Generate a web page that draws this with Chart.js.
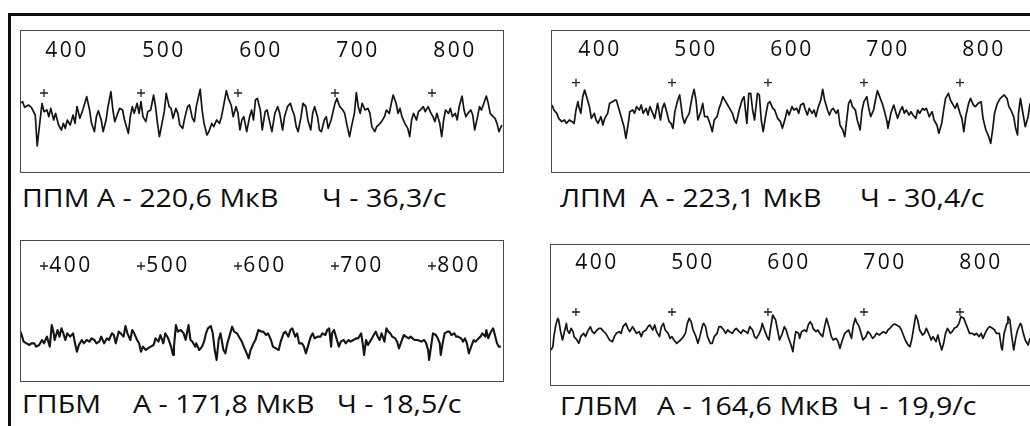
<!DOCTYPE html>
<html lang="ru">
<head>
<meta charset="utf-8">
<title>ЭМГ</title>
<script src="https://cdn.jsdelivr.net/npm/chart.js@4.4.1/dist/chart.umd.min.js"></script>
<style>
  html, body { margin: 0; padding: 0; background: #fff; }
  body { width: 1030px; height: 426px; overflow: hidden; position: relative; font-family: "Open Sans", sans-serif; }
  #frame { position: absolute; left: 8px; top: 13px; width: 1100px; height: 500px;
           border-top: 3px solid #0d0d0d; border-left: 3px solid #0d0d0d; }
  .box { position: absolute; border: 1px solid #4a4a4a; background: #fff; }
  .box canvas { display: block; }
  .cap { position: absolute; font-size: 26px; line-height: 26px; color: #0d0d0d; white-space: pre;
         transform: scaleX(1.1); transform-origin: 0 0; }
</style>
</head>
<body>
<div id="frame"></div>
<div class="box" style="left:20px;top:30px"><canvas id="ppm" width="482" height="141"></canvas></div>
<div class="box" style="left:551px;top:30px"><canvas id="lpm" width="479" height="141"></canvas></div>
<div class="box" style="left:20px;top:240px"><canvas id="gpbm" width="482" height="140"></canvas></div>
<div class="box" style="left:550px;top:244px"><canvas id="glbm" width="480" height="140"></canvas></div>
<div id="captions"></div>
<script>
// time marks, ms
const tickMs = [400, 500, 600, 700, 800];

// captions
const muscles = ['ППМ', 'ЛПМ', 'ГПБМ', 'ГЛБМ'];
const amplitudes = ['220,6', '223,1', '171,8', '164,6'];
const rates = ['36,3', '30,4', '18,5', '19,9'];

// traces: [time ms, amplitude µV]
const ppmTrace = [[375,20],[378,25],[380,8],[384,15],[387,8],[391,-15],[393,-108],[396,-30],[398,20],[400,-5],[403,0],[405,-20],[407,5],[410,-30],[412,-10],[415,-45],[418,-60],[420,-40],[422,-55],[424,-30],[427,-45],[430,-15],[432,-40],[434,10],[437,-25],[440,0],[444,40],[447,0],[449,-40],[452,-65],[454,-20],[456,-2],[459,-30],[461,-65],[464,-30],[466,10],[469,55],[471,0],[473,-35],[476,-10],[478,5],[481,0],[483,-30],[487,-70],[489,-20],[491,10],[493,-10],[496,20],[498,-10],[500,25],[502,-20],[505,-35],[507,-5],[510,0],[513,45],[515,10],[517,-40],[519,-80],[521,-50],[524,-5],[526,50],[529,10],[531,5],[533,-25],[536,5],[538,-10],[540,-45],[543,-55],[545,-25],[548,10],[550,15],[553,-25],[555,-35],[557,10],[561,62],[563,0],[565,-40],[568,-75],[570,-65],[573,-40],[575,-50],[578,-30],[581,-40],[583,-20],[585,10],[588,58],[590,35],[593,15],[595,-20],[598,10],[600,-10],[602,-60],[604,-30],[606,-20],[609,-65],[612,-20],[614,0],[616,-30],
  [618,30],[620,35],[623,0],[625,-60],[628,-5],[630,0],[633,-40],[635,-65],[638,-10],[641,10],[643,-10],[646,-60],[648,-20],[651,10],[654,20],[656,0],[658,-15],[660,-50],[662,-65],[665,-20],[667,20],[670,10],[672,-30],[675,-60],[677,-10],[679,10],[682,-20],[684,-60],[686,-65],[689,-30],[691,-20],[693,-55],[696,-30],[698,-5],[700,20],[702,35],[703,25],[705,10],[708,0],[710,-10],[712,-40],[715,-80],[717,-50],[720,-10],[722,52],[724,10],[726,-10],[728,20],[731,0],[734,5],[736,-10],[738,-50],[741,-65],[743,-50],[745,-45],[748,-35],[751,-20],[753,0],[756,-10],[758,20],[760,45],[763,20],[765,-10],[767,5],[769,-20],[772,-40],[775,-55],[777,-80],[779,-30],[781,-10],[784,-30],[786,-5],[788,0],[791,10],[793,-5],[796,10],[799,-10],[801,-20],[803,-35],[805,-10],[808,-40],[810,-80],[812,-30],[814,0],[817,-10],[819,5],[821,-20],[824,-10],[826,-30],[828,10],[831,42],[833,0],[835,-20],[837,-10],[840,0],[842,-15],[844,-60],[847,-20],[849,10],[851,0],[854,25],[856,42],[858,20],[860,-10],[863,-20],[865,-25],[867,-40],[869,-65],[872,-45]];

const lpmTrace = [[375,9],[377,-6],[380,-16],[382,-31],[385,-41],[388,-36],[390,-46],[393,-36],[396,-41],[398,-46],[400,-6],[402,19],[403,4],[405,-16],[407,34],[409,54],[412,24],[414,4],[416,-31],[419,-16],[421,-36],[423,-46],[426,-26],[428,-51],[430,-31],[433,-16],[435,14],[438,19],[441,24],[442,24],[445,-6],[448,-36],[450,-56],[452,-91],[455,-36],[456,-11],[459,-6],[461,-16],[463,4],[466,-6],[468,9],[470,-16],[473,-1],[475,-21],[477,4],[480,-16],[482,-31],[485,14],[488,-36],[490,-1],[492,14],[494,-6],[497,-41],[499,-46],[501,-61],[503,-11],[506,24],[508,39],[511,-26],[513,-46],[515,-31],[518,-16],[521,34],[523,56],[525,24],[527,-36],[530,-11],[532,14],[534,-26],[537,-26],[540,-51],[542,-71],[544,-36],[547,-26],[549,-1],[551,14],[553,34],[556,19],[558,9],[560,-1],[563,-16],[565,-36],[567,-46],[570,-6],[573,24],[575,34],[578,-46],[580,44],[582,44],[584,-6],[586,-36],[589,44],[591,39],[593,-36],[595,-71],[598,-16],[600,14],[602,19],[605,-1],[607,-6],[610,-31],
  [613,-41],[615,-61],[618,-31],[620,-6],[622,-21],[625,4],[627,-6],[630,-1],[632,-16],[634,9],[637,14],[639,-6],[641,-21],[643,-1],[646,-16],[648,-6],[650,-26],[652,-1],[655,24],[657,56],[659,24],[662,-6],[664,-21],[666,-6],[668,-1],[671,-16],[673,-6],[675,-51],[678,-66],[680,-86],[682,-36],[684,14],[686,24],[688,4],[691,-6],[693,-36],[696,-66],[698,-6],[700,19],[703,34],[705,-1],[707,-26],[710,-6],[712,24],[714,52],[717,29],[719,14],[721,-6],[724,-41],[725,-61],[728,-16],[731,9],[733,-11],[735,-31],[738,-6],[740,4],[742,-16],[744,-6],[747,-21],[749,-11],[751,-21],[754,-31],[756,-6],[758,-16],[761,-1],[763,-6],[765,-1],[768,-26],[771,-11],[773,-36],[776,-51],[778,-76],[781,-46],[783,-6],[785,29],[788,44],[790,24],[792,14],[795,-1],[797,14],[800,-16],[802,-31],[804,-71],[806,-26],[809,14],[811,29],[814,9],[816,4],[819,14],[822,19],[824,-31],[827,-66],[830,-86],[832,-106],[834,-66],[836,-16],[839,14],[842,29],[844,34],[846,39],[849,29],[851,4],[853,-6],[856,-26],[858,-61],[860,-81],[861,-16],[863,29],[865,-6],[868,-56],[871,-26],[873,14]];

const gpbmTrace = [[375,30],[377,15],[379,-5],[382,-10],[385,-15],[387,-10],[390,-10],[392,-20],[395,-15],[398,0],[400,-10],[403,10],[406,-20],[408,45],[410,20],[411,0],[414,30],[416,10],[418,35],[420,20],[422,0],[424,20],[427,10],[430,20],[432,-10],[434,-35],[436,-15],[439,0],[441,-10],[444,0],[447,-5],[449,5],[452,0],[454,-10],[457,-5],[459,10],[462,-10],[465,5],[467,0],[470,20],[472,15],[474,-10],[477,25],[479,20],[482,10],[484,42],[486,20],[489,0],[491,30],[493,20],[496,0],[498,-10],[500,-35],[502,-20],[505,-30],[507,-25],[510,-20],[513,-15],[515,5],[518,-5],[520,15],[523,-10],[525,20],[528,5],[531,-20],[533,-45],[534,-20],[536,45],[538,25],[541,30],[544,20],[546,0],[549,45],[551,0],[553,-5],[556,-20],[557,-10],[560,-30],[563,-20],[565,-5],[567,20],[569,35],[572,42],[574,20],[576,-30],[578,-60],[580,0],[582,20],[585,-30],[587,-40],[589,-10],[592,20],[594,40],[596,25],[599,20],[601,10],[604,-5],[606,-20],[609,-40],[611,-55],[613,-30],[616,-10],
  [618,0],[619,10],[621,30],[624,25],[626,25],[629,15],[631,20],[634,0],[636,-20],[639,-25],[642,-30],[644,-5],[647,20],[649,25],[652,10],[654,30],[656,35],[659,10],[661,20],[663,-10],[666,-10],[668,-20],[670,-40],[673,-10],[675,10],[677,20],[679,5],[682,10],[685,10],[687,20],[690,15],[692,30],[694,35],[696,-20],[697,20],[699,30],[702,0],[704,-20],[706,-5],[709,0],[711,-10],[714,0],[716,-5],[719,0],[722,5],[724,5],[727,20],[729,-20],[730,-45],[732,0],[734,-15],[737,0],[740,15],[742,25],[744,10],[746,0],[748,20],[751,-5],[753,35],[755,25],[757,20],[759,10],[762,5],[764,-5],[766,-25],[769,0],[771,15],[773,10],[776,5],[778,10],[780,5],[782,0],[785,0],[787,-2],[789,-5],[792,0],[794,-10],[796,-30],[797,-60],[799,-20],[801,20],[804,15],[806,5],[808,-10],[809,-45],[811,-10],[813,20],[816,25],[818,25],[820,15],[823,20],[825,10],[827,10],[830,5],[832,-5],[834,5],[836,-10],[838,-40],[841,-15],[843,0],[845,-5],[848,5],[850,10],[852,20],[855,10],[856,30],[858,5],[860,20],[863,35],[864,25],[867,-10],[869,-20],[871,-20]];

const glbmTrace = [[374,-45],[376,-35],[377,-5],[379,30],[381,50],[382,45],[384,10],[386,-15],[388,10],[390,35],[391,15],[393,5],[395,20],[397,10],[398,-5],[401,-15],[403,-25],[405,-5],[408,5],[410,-5],[412,10],[415,25],[417,10],[419,5],[422,15],[424,20],[426,20],[429,10],[431,5],[433,-5],[435,-15],[438,-20],[440,-5],[442,5],[445,10],[447,5],[449,25],[452,35],[454,20],[456,10],[459,25],[461,15],[463,5],[466,10],[468,-5],[470,10],[473,15],[475,25],[477,30],[480,15],[482,30],[484,10],[487,-5],[489,25],[491,35],[493,15],[496,5],[498,-10],[500,-5],[502,-15],[505,-25],[507,-20],[509,-15],[512,-5],[514,5],[516,35],[518,50],[520,40],[522,15],[525,-5],[527,-25],[529,-5],[532,30],[533,35],[535,25],[537,-5],[540,-25],[542,-25],[544,-5],[547,5],[549,25],[551,25],[554,15],[556,5],[558,15],[560,10],[563,5],[565,15],[567,20],[570,10],[572,5],[574,15],[577,10],[579,5],[581,25],[584,15],[586,-5],[588,-10],[591,5],[593,20],[594,35],[597,10],[599,-5],[601,-15],[603,25],[605,60],[606,55],[608,45],[610,15],[612,-15],[615,5],[617,25],[619,15],
  [621,-5],[624,-30],[626,-50],[627,-25],[629,10],[632,5],[633,-10],[635,10],[638,15],[640,10],[642,30],[644,40],[646,30],[647,20],[650,10],[652,15],[654,5],[657,-5],[659,25],[661,50],[664,20],[666,-5],[668,-15],[671,-10],[673,-20],[675,-40],[677,-20],[680,5],[682,10],[684,15],[687,-10],[689,30],[691,50],[692,40],[695,25],[697,5],[699,-15],[702,-5],[704,10],[706,5],[709,-10],[711,-5],[713,5],[716,0],[718,5],[720,10],[723,5],[725,15],[727,20],[730,30],[732,33],[734,30],[737,25],[739,15],[741,0],[743,-15],[746,-30],[748,-35],[750,-10],[752,25],[754,60],[756,45],[758,15],[761,0],[763,5],[765,20],[768,0],[770,-15],[772,-5],[775,-20],[777,0],[779,-25],[781,-45],[783,-25],[785,5],[787,20],[790,5],[792,10],[794,20],[797,25],[799,35],[801,55],[804,50],[806,35],[808,20],[810,5],[813,5],[815,0],[817,5],[820,-5],[822,5],[824,-10],[827,10],[829,20],[831,25],[834,20],[836,15],[838,5],[841,5],[843,-35],[844,-45],[846,5],[849,35],[850,55],[852,45],[854,-5],[856,-45],[858,-10],[860,15],[863,35],[864,30],[866,5],[868,-15],[871,-30],[873,-10]];

// per panel view settings
const panels = [
  { id: 'ppm',  trace: ppmTrace,  xMin: 376.3, xMax: 873.2, yMin: -186, yMax: 207, markY: 51,  padTop: 10, labelOffset: 23, width: 1.7 },
  { id: 'lpm',  trace: lpmTrace,  xMin: 375,   xMax: 874,   yMin: -192, yMax: 204, markY: 76,  padTop: 9,  labelOffset: 24, width: 1.7 },
  { id: 'gpbm', trace: gpbmTrace, xMin: 376.3, xMax: 873.2, yMin: -123, yMax: 252, markY: 222, padTop: 15, labelOffset: 27, width: 2.1 },
  { id: 'glbm', trace: glbmTrace, xMin: 374,   xMax: 874,   yMin: -150, yMax: 246, markY: 69,  padTop: 8,  labelOffset: 21, width: 1.7 }
];

const capLayout = [
  { top: 184, lefts: [22, 97, 322] },
  { top: 184, lefts: [560, 640, 860] },
  { top: 390, lefts: [22, 133, 337] },
  { top: 392, lefts: [560, 657, 852] }
];

// wider tick lettering like the scan
const tickSpacing = {
  id: 'tickSpacing',
  beforeDraw(chart) { chart.ctx.letterSpacing = '2.5px'; }
};

panels.forEach(p => {
  const ctx = document.getElementById(p.id).getContext('2d');
  new Chart(ctx, {
    type: 'line',
    data: {
      datasets: [{
        data: p.trace.map(([t, v]) => ({ x: t, y: v })),
        borderColor: '#141414',
        borderWidth: p.width,
        borderJoinStyle: 'round',
        pointRadius: 0,
        tension: 0
      }, {
        type: 'scatter',
        data: tickMs.map(t => ({ x: t, y: p.markY })),
        pointStyle: 'cross',
        pointRadius: 4,
        borderColor: '#222',
        pointBorderColor: '#222',
        pointBorderWidth: 1.3,
        clip: false
      }]
    },
    options: {
      responsive: false,
      animation: false,
      events: [],
      layout: { autoPadding: false, padding: { top: p.padTop, left: 0, right: 0, bottom: 0 } },
      plugins: { legend: { display: false }, tooltip: { enabled: false } },
      scales: {
        x: {
          type: 'linear',
          position: 'top',
          min: p.xMin,
          max: p.xMax,
          grid: { display: false, drawTicks: false },
          border: { display: false },
          afterBuildTicks: axis => { axis.ticks = tickMs.map(v => ({ value: v })); },
          ticks: {
            mirror: true,
            labelOffset: p.labelOffset,
            padding: 0,
            maxRotation: 0,
            autoSkip: false,
            color: '#0d0d0d',
            font: { family: '"Open Sans"', size: 21, lineHeight: 1 },
            callback: v => String(v)
          }
        },
        y: { display: false, min: p.yMin, max: p.yMax }
      }
    },
    plugins: [tickSpacing]
  });
});

// captions under each panel
const capBox = document.getElementById('captions');
muscles.forEach((m, i) => {
  const parts = [m, 'А - ' + amplitudes[i] + ' МкВ', 'Ч - ' + rates[i] + '/с'];
  parts.forEach((txt, j) => {
    const d = document.createElement('div');
    d.className = 'cap';
    d.style.left = capLayout[i].lefts[j] + 'px';
    d.style.top = capLayout[i].top + 'px';
    d.textContent = txt;
    capBox.appendChild(d);
  });
});
</script>
</body>
</html>
